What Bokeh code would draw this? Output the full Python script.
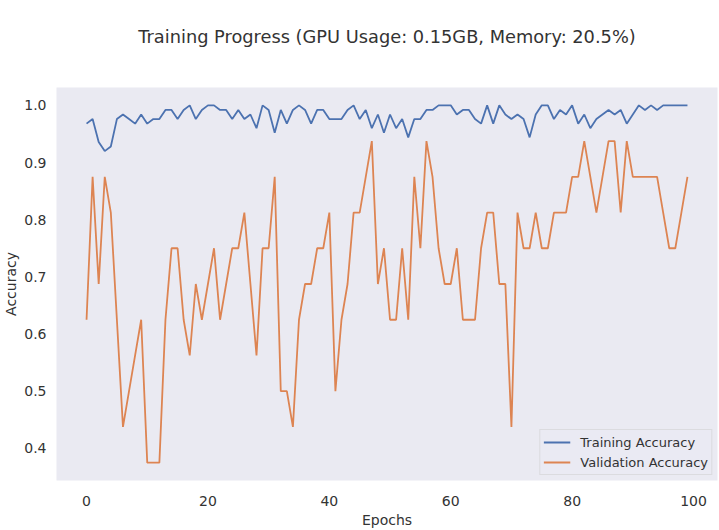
from bokeh.plotting import figure
from bokeh.models import FixedTicker, PrintfTickFormatter, Range1d, Legend, LegendItem, Title
from bokeh.embed import file_html
from bokeh.resources import INLINE

# Per-epoch accuracy history
epochs = list(range(100))

train_acc = [
    0.968, 0.976, 0.936, 0.920, 0.928, 0.976, 0.984, 0.976, 0.968, 0.984,
    0.968, 0.976, 0.976, 0.992, 0.992, 0.976, 0.992, 1.000, 0.976, 0.992,
    1.000, 1.000, 0.992, 0.992, 0.976, 0.992, 0.976, 0.984, 0.960, 1.000,
    0.992, 0.952, 0.992, 0.968, 0.992, 1.000, 0.992, 0.968, 0.992, 0.992,
    0.976, 0.976, 0.976, 0.992, 1.000, 0.976, 0.992, 0.960, 0.984, 0.952,
    0.984, 0.960, 0.976, 0.944, 0.976, 0.976, 0.992, 0.992, 1.000, 1.000,
    1.000, 0.984, 0.992, 0.992, 0.976, 0.968, 1.000, 0.968, 1.000, 0.984,
    0.976, 0.984, 0.976, 0.944, 0.984, 1.000, 1.000, 0.976, 0.992, 0.984,
    1.000, 0.968, 0.984, 0.960, 0.976, 0.984, 0.992, 0.984, 0.992, 0.968,
    0.984, 1.000, 0.992, 1.000, 0.992, 1.000, 1.000, 1.000, 1.000, 1.000,
]

val_acc = [
    0.625, 0.875, 0.6875, 0.875, 0.8125, 0.625, 0.4375, 0.5, 0.5625, 0.625,
    0.375, 0.375, 0.375, 0.625, 0.75, 0.75, 0.625, 0.5625, 0.6875, 0.625,
    0.6875, 0.75, 0.625, 0.6875, 0.75, 0.75, 0.8125, 0.6875, 0.5625, 0.75,
    0.75, 0.875, 0.5, 0.5, 0.4375, 0.625, 0.6875, 0.6875, 0.75, 0.75,
    0.8125, 0.5, 0.625, 0.6875, 0.8125, 0.8125, 0.875, 0.9375, 0.6875, 0.75,
    0.625, 0.625, 0.75, 0.625, 0.875, 0.75, 0.9375, 0.875, 0.75, 0.6875,
    0.6875, 0.75, 0.625, 0.625, 0.625, 0.75, 0.8125, 0.8125, 0.6875, 0.6875,
    0.4375, 0.8125, 0.75, 0.75, 0.8125, 0.75, 0.75, 0.8125, 0.8125, 0.8125,
    0.875, 0.875, 0.9375, 0.875, 0.8125, 0.875, 0.9375, 0.9375, 0.8125, 0.9375,
    0.875, 0.875, 0.875, 0.875, 0.875, 0.8125, 0.75, 0.75, 0.8125, 0.875,
]

x_ticks = [0, 20, 40, 60, 80, 100]
y_ticks = [0.4, 0.5, 0.6, 0.7, 0.8, 0.9, 1.0]

title_text = "Training Progress (GPU Usage: 0.15GB, Memory: 20.5%)"
labels = ["Training Accuracy", "Validation Accuracy"]
colors = ["#4C72B0", "#DD8452"]

FONT = "DejaVu Sans"
TEXT = "#333333"
BG = "#EAEAF2"

# Axis limits with a 5% margin around the data
x_pad = 0.05 * (max(epochs) - min(epochs))
all_vals = train_acc + val_acc
y_pad = 0.05 * (max(all_vals) - min(all_vals))

p = figure(
    width=719, height=530,
    output_backend="svg", toolbar_location=None,
    x_range=Range1d(min(epochs) - x_pad, max(epochs) + x_pad),
    y_range=Range1d(min(all_vals) - y_pad, max(all_vals) + y_pad),
    min_border_left=0, min_border_right=2,
    min_border_top=87, min_border_bottom=50,
)

p.background_fill_color = BG
p.border_fill_color = "white"
p.outline_line_color = None
p.xgrid.visible = False
p.ygrid.visible = False

p.title.text = title_text
p.title.align = "center"
p.title.text_font = FONT
p.title.text_font_size = "17.8px"
p.title.text_font_style = "normal"
p.title.text_color = TEXT
p.title.standoff = 10

# Blank band between the title and the plot area
p.add_layout(Title(text=" ", text_font_size="1px", standoff=33), "above")

for ax in (p.xaxis[0], p.yaxis[0]):
    ax.axis_line_color = None
    ax.major_tick_line_color = None
    ax.minor_tick_line_color = None
    ax.major_label_text_font = FONT
    ax.major_label_text_font_size = "14px"
    ax.major_label_text_color = TEXT
    ax.axis_label_text_font = FONT
    ax.axis_label_text_font_size = "14px"
    ax.axis_label_text_font_style = "normal"
    ax.axis_label_text_color = TEXT

p.xaxis.ticker = FixedTicker(ticks=x_ticks)
p.xaxis.formatter = PrintfTickFormatter(format="%d")
p.xaxis.major_label_standoff = 9
p.xaxis.axis_label = "Epochs"
p.xaxis.axis_label_standoff = 3

p.yaxis.ticker = FixedTicker(ticks=y_ticks)
p.yaxis.formatter = PrintfTickFormatter(format="%.1f")
p.yaxis.major_label_standoff = 4
p.yaxis.axis_label = "Accuracy"
p.yaxis.axis_label_standoff = 2

r_train = p.line(epochs, train_acc, line_color=colors[0], line_width=1.8)
r_val = p.line(epochs, val_acc, line_color=colors[1], line_width=1.8)

legend = Legend(
    items=[LegendItem(label=labels[0], renderers=[r_train]),
           LegendItem(label=labels[1], renderers=[r_val])],
    location="bottom_right",
    orientation="vertical",
    background_fill_color=BG,
    background_fill_alpha=0.8,
    border_line_color="#CCCCCC",
    border_line_width=1,
    label_text_font=FONT,
    label_text_font_size="13px",
    label_text_color=TEXT,
    glyph_width=27,
    glyph_height=18,
    label_height=18,
    label_standoff=10,
    spacing=2,
    padding=3,
    margin=5,
)
p.add_layout(legend)

open("out.html", "w").write(file_html(p, INLINE))
